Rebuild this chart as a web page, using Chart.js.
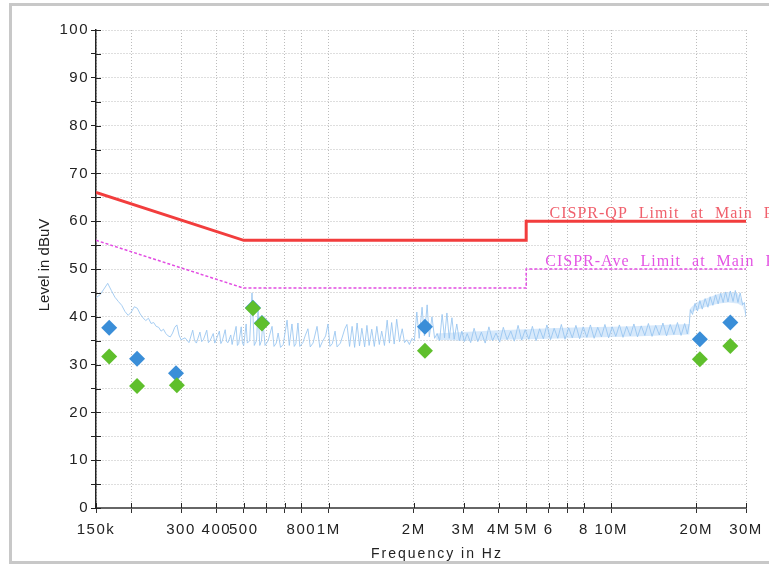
<!DOCTYPE html>
<html>
<head>
<meta charset="utf-8">
<script src="https://cdn.jsdelivr.net/npm/chart.js@4.4.0/dist/chart.umd.min.js"></script>
<style>
  html, body { margin: 0; padding: 0; background: #fff; }
  canvas { display: block; }
</style>
</head>
<body>
<canvas id="emi" width="769" height="566"></canvas>
<script>
// frequencies in MHz, levels in dBuV
const xTickValues = [0.15, 0.2, 0.3, 0.4, 0.5, 0.6, 0.7, 0.8, 1, 2, 3, 4, 5, 6, 7, 8, 10, 20, 30];
const xTickLabels = ['150k', '', '300', '400', '500', '', '', '800', '1M', '2M', '3M', '4M', '5M', '6', '', '8', '10M', '20M', '30M'];

const qpLimitFreq = [0.15, 0.5, 5, 5, 30];
const qpLimitLevel = [66, 56, 56, 60, 60];
const aveLimitFreq = [0.15, 0.5, 5, 5, 30];
const aveLimitLevel = [56, 46, 46, 50, 50];

const qpFreq = [0.167, 0.2096, 0.288, 0.539, 0.58, 2.19, 20.6, 26.4];
const qpLevel = [37.7, 31.2, 28.2, 41.9, 38.7, 37.9, 35.3, 38.8];
const avgFreq = [0.167, 0.2096, 0.29, 0.539, 0.58, 2.19, 20.6, 26.4];
const avgLevel = [31.7, 25.5, 25.7, 41.8, 38.6, 32.9, 31.1, 33.9];

// scan trace [MHz, dBuV]
const trace = [
  [0.150,44.0],[0.155,44.6],[0.160,45.8],[0.165,47.0],[0.170,45.5],[0.175,44.1],[0.180,43.2],[0.185,42.4],
  [0.190,41.1],[0.195,40.3],[0.200,41.0],[0.205,42.1],[0.210,41.8],[0.215,40.6],[0.220,39.8],[0.225,39.2],
  [0.230,39.7],[0.235,38.6],[0.240,38.8],[0.245,38.0],[0.250,37.8],[0.255,37.0],[0.260,37.4],[0.265,36.5],
  [0.270,36.0],[0.275,35.8],[0.280,36.6],[0.285,37.8],[0.290,38.3],[0.295,36.2],[0.300,35.2],
  [0.31,35.6],[0.32,34.6],[0.33,37.2],[0.335,35.0],[0.34,34.5],[0.35,36.8],[0.355,34.8],[0.36,35.2],
  [0.37,37.2],[0.375,34.6],[0.38,35.0],[0.39,36.5],[0.395,34.5],[0.40,35.3],[0.41,37.0],[0.415,34.4],
  [0.42,35.0],[0.43,37.3],[0.435,34.8],[0.44,34.6],[0.45,36.2],[0.455,34.2],[0.46,35.6],[0.47,38.0],
  [0.475,34.0],[0.48,34.4],[0.49,37.9],[0.495,34.5],
  [0.50,34.0],[0.51,38.5],[0.515,34.5],[0.525,35.0],[0.535,45.0],[0.545,34.0],[0.555,35.0],[0.562,41.4],
  [0.57,34.0],[0.578,35.0],[0.585,39.0],[0.595,34.0],[0.61,35.0],[0.63,38.0],[0.64,33.8],[0.652,34.5],
  [0.662,36.6],[0.675,33.6],[0.69,34.2],[0.712,39.3],[0.725,34.0],[0.741,38.5],[0.755,33.8],[0.765,34.4],
  [0.778,38.7],[0.79,33.8],[0.81,34.6],[0.825,36.0],[0.844,37.5],[0.86,33.7],[0.88,34.5],[0.909,38.0],
  [0.93,33.6],[0.95,34.8],[0.975,36.0],[0.994,38.5],[1.01,33.8],[1.03,34.4],[1.053,37.0],[1.07,33.7],
  [1.1,34.5],[1.14,37.5],
  [1.16,38.4],[1.185,33.8],[1.21,38.0],[1.235,33.6],[1.26,38.7],[1.285,33.9],[1.31,37.6],[1.34,33.7],
  [1.365,38.2],[1.39,34.0],[1.42,37.4],[1.45,33.8],[1.48,38.0],[1.51,34.2],[1.54,37.0],[1.575,34.0],
  [1.61,39.3],[1.64,34.5],[1.67,38.8],[1.705,34.3],[1.74,39.5],[1.78,34.8],[1.82,37.5],[1.855,34.6],
  [1.89,35.2],[1.93,34.2],[1.97,35.5],[2.01,35.0],[2.05,41.0],[2.09,35.5],[2.14,42.0],[2.18,36.0],
  [2.23,42.5],[2.27,35.8],[2.32,40.0],[2.37,35.5],[2.42,36.5],[2.47,35.0],[2.52,40.5],[2.57,35.6],
  [2.62,40.8],[2.67,35.5],[2.73,39.8],[2.78,35.3],[2.84,38.5],[2.9,35.0],[2.96,37.0],[3.02,34.8],
  [3.09,36.5],[3.18,34.6],[3.27,37.6],[3.37,34.8],[3.47,36.8],[3.58,34.5],[3.69,37.9],[3.80,35.0],
  [3.91,36.6],[4.03,34.7],[4.15,37.8],[4.28,35.2],[4.41,37.0],[4.54,34.9],[4.68,38.2],[4.82,35.1],
  [4.96,37.3],[5.11,35.3],[5.26,38.0],[5.42,35.0],[5.58,37.5],[5.75,35.4],[5.92,38.3],[6.10,35.2],
  [6.28,37.6],[6.47,35.5],[6.66,38.4],[6.86,35.3],[7.07,37.7],[7.28,35.6],[7.50,38.2],[7.73,35.4],
  [7.96,37.9],[8.20,35.7],[8.44,38.3],[8.70,35.5],[8.96,37.8],[9.23,35.8],[9.50,38.4],[9.79,35.6],
  [10.08,37.9],[10.38,35.9],[10.69,38.3],[11.01,35.7],[11.34,38.0],[11.68,36.0],[12.03,38.5],[12.39,35.8],
  [12.77,38.1],[13.15,36.1],[13.54,38.6],[13.95,35.9],[14.37,38.2],[14.80,36.2],[15.24,38.7],[15.70,36.0],
  [16.17,38.4],[16.66,36.3],[17.16,38.8],[17.67,36.1],[18.20,38.6],[18.6,36.4],[18.9,38.6],
  [19.05,41.5],[19.4,40.5],[19.8,42.8],[20.2,41.2],[20.6,43.4],[21.0,41.6],[21.5,43.8],[22.0,42.0],
  [22.4,44.2],[22.9,42.4],[23.4,44.6],[23.9,42.7],[24.4,44.9],[24.9,43.0],[25.4,45.2],[25.9,43.1],
  [26.4,45.4],[27.0,43.2],[27.5,45.5],[28.1,43.0],[28.6,45.0],[29.2,42.5],[29.6,43.0],[30.0,40.0]
];

// envelope of the dense part of the trace
const bandFreq = [2.4, 3, 4, 5, 6, 8, 10, 12, 15, 18.9, 19.05, 20, 22, 24, 26, 28, 29.2, 30];
const bandTop  = [36.5, 36.8, 37.2, 37.4, 37.6, 37.8, 37.9, 38.0, 38.3, 38.5, 41.8, 43.0, 44.0, 44.8, 45.2, 45.0, 43.0, 40.0];
const bandLow  = [35.2, 35.0, 35.2, 35.3, 35.4, 35.6, 35.8, 35.9, 36.1, 36.3, 40.8, 41.4, 42.2, 42.8, 43.0, 42.8, 42.2, 40.0];

const qpLabel = 'CISPR-QP Limit at Main Ports';
const aveLabel = 'CISPR-Ave Limit at Main Ports';

const toPts = (xs, ys) => xs.map((f, i) => ({ x: f, y: ys[i] }));

const decorations = {
  id: 'decorations',
  beforeDraw(chart) {
    const ctx = chart.ctx;
    ctx.save();
    ctx.fillStyle = '#fff';
    ctx.fillRect(0, 0, chart.width, chart.height);
    ctx.strokeStyle = '#c8c8c8';
    ctx.lineWidth = 3;
    ctx.strokeRect(10.5, 4.5, chart.width + 10, 558);
    ctx.restore();
    ctx.letterSpacing = '1.5px';
  },
  afterDraw(chart) {
    const { ctx, chartArea: a, scales: { x, y } } = chart;
    ctx.save();
    ctx.letterSpacing = '0px';

    // tick marks on the inner side of the axes
    ctx.strokeStyle = '#222';
    ctx.lineWidth = 1;
    y.ticks.forEach(t => {
      const py = Math.round(y.getPixelForValue(t.value)) + 0.5;
      ctx.beginPath();
      ctx.moveTo(a.left, py);
      ctx.lineTo(a.left + 5, py);
      ctx.stroke();
    });
    x.ticks.forEach(t => {
      const px = Math.round(x.getPixelForValue(t.value)) + 0.5;
      ctx.beginPath();
      ctx.moveTo(px, a.bottom);
      ctx.lineTo(px, a.bottom - 5);
      ctx.stroke();
    });

    // limit line labels
    ctx.font = '16px "Liberation Serif"';
    ctx.letterSpacing = '1px';
    ctx.wordSpacing = '6px';
    ctx.textAlign = 'left';
    ctx.textBaseline = 'alphabetic';
    ctx.fillStyle = '#f0606c';
    ctx.fillText(qpLabel, x.getPixelForValue(6.05), y.getPixelForValue(60.7));
    ctx.fillStyle = '#e455e4';
    ctx.fillText(aveLabel, x.getPixelForValue(5.84), y.getPixelForValue(50.6));

    // axis titles
    ctx.wordSpacing = '0px';
    ctx.fillStyle = '#222';
    ctx.font = '14px "Liberation Sans"';
    ctx.letterSpacing = '2px';
    ctx.textAlign = 'center';
    ctx.textBaseline = 'middle';
    ctx.fillText('Frequency in Hz', (a.left + a.right) / 2 + 16, 554);
    ctx.font = '15px "Liberation Sans"';
    ctx.letterSpacing = '0px';
    ctx.translate(45, (a.top + a.bottom) / 2 - 4);
    ctx.rotate(-Math.PI / 2);
    ctx.fillText('Level in dBuV', 0, 0);
    ctx.restore();
  }
};

new Chart(document.getElementById('emi'), {
  type: 'scatter',
  data: {
    datasets: [
      {
        label: 'Average',
        data: toPts(avgFreq, avgLevel),
        pointStyle: 'rectRot',
        pointRadius: 8,
        pointBorderWidth: 0,
        backgroundColor: '#5fbf2c'
      },
      {
        label: 'QuasiPeak',
        data: toPts(qpFreq, qpLevel),
        pointStyle: 'rectRot',
        pointRadius: 8,
        pointBorderWidth: 0,
        backgroundColor: '#3a8ed8'
      },
      {
        label: 'QP limit',
        data: toPts(qpLimitFreq, qpLimitLevel),
        showLine: true,
        borderColor: '#f23d3d',
        borderWidth: 3,
        pointRadius: 0
      },
      {
        label: 'Ave limit',
        data: toPts(aveLimitFreq, aveLimitLevel),
        showLine: true,
        borderColor: '#e24ce2',
        borderWidth: 1.5,
        borderDash: [3, 2],
        pointRadius: 0
      },
      {
        label: 'Trace',
        data: trace.map(([f, v]) => ({ x: f, y: v })),
        showLine: true,
        borderColor: 'rgba(150,196,240,0.85)',
        borderWidth: 1,
        pointRadius: 0
      },
      {
        label: 'band low',
        data: toPts(bandFreq, bandLow),
        showLine: true,
        borderWidth: 0,
        pointRadius: 0,
        fill: false
      },
      {
        label: 'band top',
        data: toPts(bandFreq, bandTop),
        showLine: true,
        borderWidth: 0,
        pointRadius: 0,
        fill: '-1',
        backgroundColor: 'rgba(175,212,248,0.5)'
      }
    ]
  },
  options: {
    responsive: false,
    animation: false,
    layout: { padding: { top: 30, right: 23, left: 0, bottom: 0 } },
    plugins: {
      legend: { display: false },
      tooltip: { enabled: false }
    },
    scales: {
      x: {
        type: 'logarithmic',
        min: 0.15,
        max: 30,
        afterBuildTicks: scale => { scale.ticks = xTickValues.map(v => ({ value: v })); },
        afterFit: scale => { scale.height = 58; },
        grid: {
          color: '#bcbcbc',
          tickColor: '#333',
          tickLength: 5,
          tickBorderDash: []
        },
        border: { display: true, color: '#666', width: 2, dash: [1, 2] },
        ticks: {
          autoSkip: false,
          maxRotation: 0,
          padding: 8,
          color: '#222',
          font: { family: 'Liberation Sans', size: 15 },
          callback: (value, index) => xTickLabels[index]
        }
      },
      y: {
        min: 0,
        max: 100,
        afterFit: scale => { scale.width = 96; },
        grid: {
          color: '#bcbcbc',
          tickColor: '#222',
          tickLength: 5,
          tickBorderDash: []
        },
        border: { display: true, color: '#222', width: 1.5, dash: [1, 2] },
        ticks: {
          stepSize: 5,
          autoSkip: false,
          padding: 2,
          color: '#222',
          font: { family: 'Liberation Sans', size: 15 },
          callback: value => (value % 10 === 0 ? value : '')
        }
      }
    }
  },
  plugins: [decorations]
});
</script>
</body>
</html>
